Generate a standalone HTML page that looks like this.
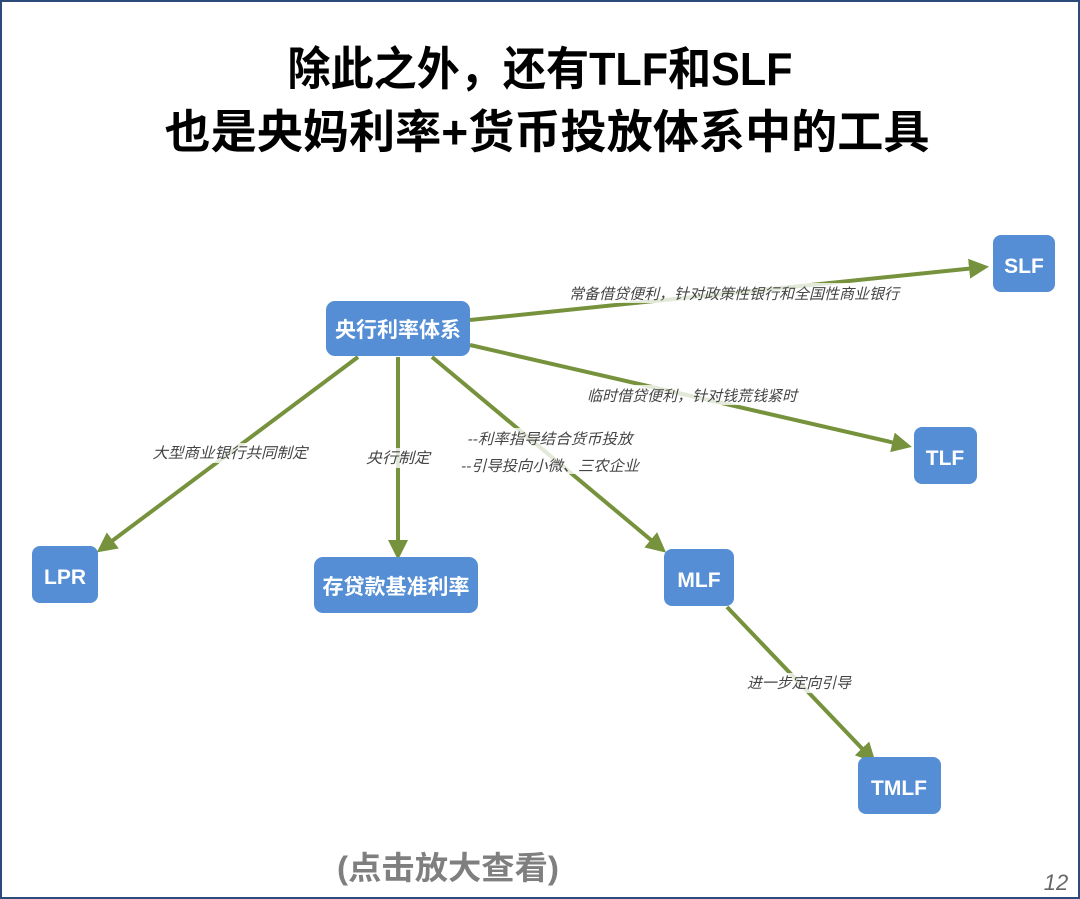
<!DOCTYPE html>
<html><head><meta charset="utf-8"><style>
html,body{margin:0;padding:0;background:#fff;}
svg{display:block;}
</style></head><body>
<svg width="1080" height="899" viewBox="0 0 1080 899" xmlns="http://www.w3.org/2000/svg" font-family="Liberation Sans, Noto Sans CJK SC, sans-serif">
<rect x="1" y="1" width="1078" height="897" fill="#fff" stroke="#2c4a7a" stroke-width="2"/>
<text x="540" y="85" text-anchor="middle" font-size="46" font-weight="bold" textLength="505" lengthAdjust="spacingAndGlyphs" fill="#000">除此之外，还有TLF和SLF</text>
<text x="547" y="148" text-anchor="middle" font-size="46" font-weight="bold" textLength="765" lengthAdjust="spacingAndGlyphs" fill="#000">也是央妈利率+货币投放体系中的工具</text>
<defs><marker id="a" markerWidth="5" markerHeight="5" refX="4" refY="2.5" orient="auto" markerUnits="strokeWidth"><path d="M0,0 L5,2.5 L0,5 Z" fill="#76923c"/></marker></defs>
<g stroke="#76923c" stroke-width="4" fill="none" marker-end="url(#a)">
<line x1="470" y1="320" x2="985" y2="267"/>
<line x1="470" y1="345" x2="908" y2="446"/>
<line x1="358" y1="357" x2="100" y2="550"/>
<line x1="398" y1="357" x2="398" y2="556"/>
<line x1="432" y1="357" x2="663" y2="550"/>
<line x1="727" y1="607" x2="873" y2="760"/>
</g>
<g font-size="15" font-style="italic" fill="#444" text-anchor="middle">
<rect x="566" y="283" width="336" height="20" fill="#fff" opacity="0.8"/>
<text x="734" y="299" textLength="330" lengthAdjust="spacingAndGlyphs">常备借贷便利，针对政策性银行和全国性商业银行</text>
<rect x="588" y="385" width="212" height="20" fill="#fff" opacity="0.8"/>
<text x="692" y="401" textLength="210" lengthAdjust="spacingAndGlyphs">临时借贷便利，针对钱荒钱紧时</text>
<rect x="152" y="443" width="156" height="20" fill="#fff" opacity="0.8"/>
<text x="230" y="458" textLength="155" lengthAdjust="spacingAndGlyphs">大型商业银行共同制定</text>
<rect x="365" y="448" width="66" height="20" fill="#fff" opacity="0.8"/>
<text x="398" y="463" textLength="64" lengthAdjust="spacingAndGlyphs">央行制定</text>
<rect x="462" y="428" width="180" height="46" fill="#fff" opacity="0.8"/>
<text x="550" y="444" textLength="165" lengthAdjust="spacingAndGlyphs">--利率指导结合货币投放</text>
<text x="550" y="471" textLength="178" lengthAdjust="spacingAndGlyphs">--引导投向小微、三农企业</text>
<rect x="746" y="673" width="106" height="20" fill="#fff" opacity="0.8"/>
<text x="799" y="688" textLength="104" lengthAdjust="spacingAndGlyphs">进一步定向引导</text>
</g>
<g fill="#558ed5">
<rect x="326" y="301" width="144" height="55" rx="9"/>
<rect x="993" y="235" width="62" height="57" rx="8"/>
<rect x="914" y="427" width="63" height="57" rx="8"/>
<rect x="32" y="546" width="66" height="57" rx="8"/>
<rect x="314" y="557" width="164" height="56" rx="9"/>
<rect x="664" y="549" width="70" height="57" rx="8"/>
<rect x="858" y="757" width="83" height="57" rx="8"/>
</g>
<g fill="#fff" font-size="21" font-weight="bold" text-anchor="middle">
<text x="398" y="337">央行利率体系</text>
<text x="1024" y="273">SLF</text>
<text x="945" y="465">TLF</text>
<text x="65" y="584">LPR</text>
<text x="396" y="594">存贷款基准利率</text>
<text x="699" y="587">MLF</text>
<text x="899" y="795">TMLF</text>
</g>
<text x="448" y="879" text-anchor="middle" font-size="32" font-weight="bold" fill="#7f7f7f" textLength="222" lengthAdjust="spacingAndGlyphs">(点击放大查看)</text>
<text x="1056" y="890" text-anchor="middle" font-size="22" font-style="italic" fill="#666">12</text>
</svg>
</body></html>
